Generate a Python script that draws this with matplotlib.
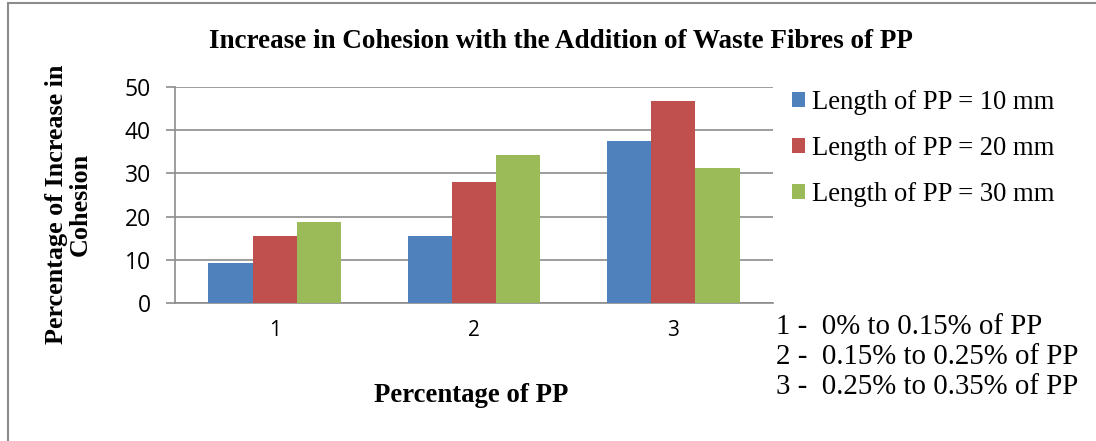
import matplotlib
matplotlib.use("Agg")
import matplotlib.pyplot as plt
import numpy as np
from matplotlib.patches import Rectangle

categories = ["1", "2", "3"]
series_names = ["Length of PP = 10 mm", "Length of PP = 20 mm", "Length of PP = 30 mm"]
len10 = [9.375, 15.625, 37.5]
len20 = [15.625, 28.125, 46.875]
len30 = [18.75, 34.375, 31.25]
notes = ["1 -  0% to 0.15% of PP", "2 -  0.15% to 0.25% of PP", "3 -  0.25% to 0.35% of PP"]
yticks = [0, 10, 20, 30, 40, 50]

colors = ["#4F81BD", "#C0504D", "#9BBB59"]
serif = "Liberation Serif"
sans = "Open Sans"

fig = plt.figure(figsize=(10.96, 4.41), dpi=100)
ax = fig.add_axes([175/1096, 1-303/441, (773-175)/1096, (303-87)/441])

x = np.arange(len(categories))
w = 0.222
for i, (vals, c, name) in enumerate(zip([len10, len20, len30], colors, series_names)):
    ax.bar(x + (i-1)*w, vals, width=w, color=c, label=name, zorder=3, linewidth=0)

ax.set_xlim(-0.5, 2.5)
ax.set_ylim(0, 50)
ax.set_yticks(yticks)
ax.set_xticks(x)
ax.set_xticklabels(categories, fontfamily=sans, fontsize=15)
ax.set_yticklabels([str(v) for v in yticks], fontfamily=sans, fontsize=16.5)
ax.yaxis.grid(True, color="#8c8c8c", linewidth=1.2, zorder=0)
for s in ["top", "right"]:
    ax.spines[s].set_visible(False)
for s in ["left", "bottom"]:
    ax.spines[s].set_color("#8c8c8c")
    ax.spines[s].set_linewidth(1.2)
ax.tick_params(axis="y", length=6.5, color="#8c8c8c", width=1.2, pad=11)
ax.tick_params(axis="x", length=0, pad=12)

fig.text(561/1096, 1-42/441, "Increase in Cohesion with the Addition of Waste Fibres of PP",
         fontfamily=serif, fontweight="bold", fontsize=19.5, ha="center", va="center")
fig.text(68/1096, 1-204/441, "Percentage of Increase in\nCohesion", fontfamily=serif,
         fontweight="bold", fontsize=18.8, rotation=90, ha="center", va="center",
         linespacing=1.05)
fig.text(471/1096, 1-395/441, "Percentage of PP", fontfamily=serif, fontweight="bold",
         fontsize=19.3, ha="center", va="center")

leg = fig.legend(loc="upper left", bbox_to_anchor=(792/1096, 1-90/441), frameon=False,
                 prop={"family": serif, "size": 19.2}, handlelength=0.5, handleheight=0.5,
                 handletextpad=0.25, labelspacing=0.78, borderaxespad=0, borderpad=0)

for j, t in enumerate(notes):
    fig.text(776/1096, 1-(327+30*j)/441, t, fontfamily=serif, fontsize=20.8, ha="left", va="center")

fig.patches.append(Rectangle((8/1096, -0.05), 1.2, 1-3/441+0.05, transform=fig.transFigure,
                             fill=False, edgecolor="#8c8c8c", linewidth=1.5))

fig.savefig("out.png", dpi=100)
